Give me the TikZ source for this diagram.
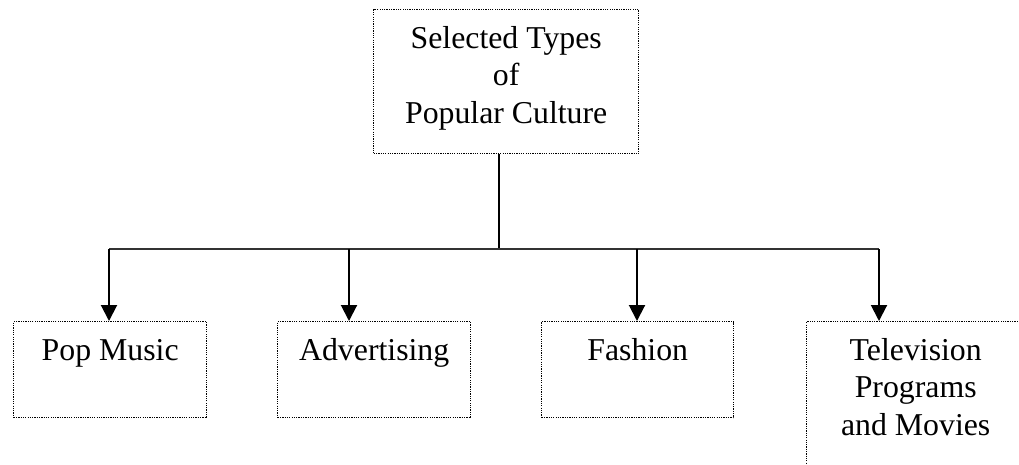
\documentclass[tikz,border=0pt]{standalone}
\usepackage{fontspec}
\setmainfont{Liberation Serif}
\usetikzlibrary{arrows.meta}
\newcommand\bxtext[3]{\parbox[c][#2][t]{#1}{\centering\vspace*{12.2pt}#3\par}}
\begin{document}
\begin{tikzpicture}[x=1pt,y=-1pt,
  catbox/.style={draw=black, line width=1.4pt, dash pattern=on 1.2pt off 1.1pt,
    rectangle, inner sep=0pt, font=\fontsize{31.8}{37.5}\selectfont},
  trunk/.style={draw=black!80, line width=1.4pt},
  arr/.style={draw=black, line width=2pt, -{Triangle[length=16pt,width=16pt]}}]
\clip (0,0) rectangle (1019,464);
\fill[white] (0,0) rectangle (1019,464);

\node[catbox, anchor=north west] (top) at (373,9)
  {\bxtext{265pt}{144pt}{\strut Selected Types\\of\\Popular Culture}};
\node[catbox, anchor=north west] (pop) at (13,321)
  {\bxtext{193pt}{96pt}{\strut Pop Music}};
\node[catbox, anchor=north west] (adv) at (277,321)
  {\bxtext{193pt}{96pt}{\strut Advertising}};
\node[catbox, anchor=north west] (fash) at (541,321)
  {\bxtext{192pt}{96pt}{\strut Fashion}};
\node[catbox, anchor=north west] (tv) at (806,321)
  {\bxtext{218pt}{150pt}{\strut Television\\Programs\\and Movies}};

\coordinate (j) at (499,249);
\coordinate (hL) at (109,249);
\coordinate (hA) at (349,249);
\coordinate (hF) at (637,249);
\coordinate (hR) at (879,249);

\draw[draw=black, line width=1.1pt] (top.south -| j) -- (j);
\draw[trunk] (hL) -- (hR);
\draw[arr] (hL) -- (hL |- pop.north);
\draw[arr] (hA) -- (hA |- adv.north);
\draw[arr] (hF) -- (hF |- fash.north);
\draw[arr] (hR) -- (hR |- tv.north);
\end{tikzpicture}
\end{document}
